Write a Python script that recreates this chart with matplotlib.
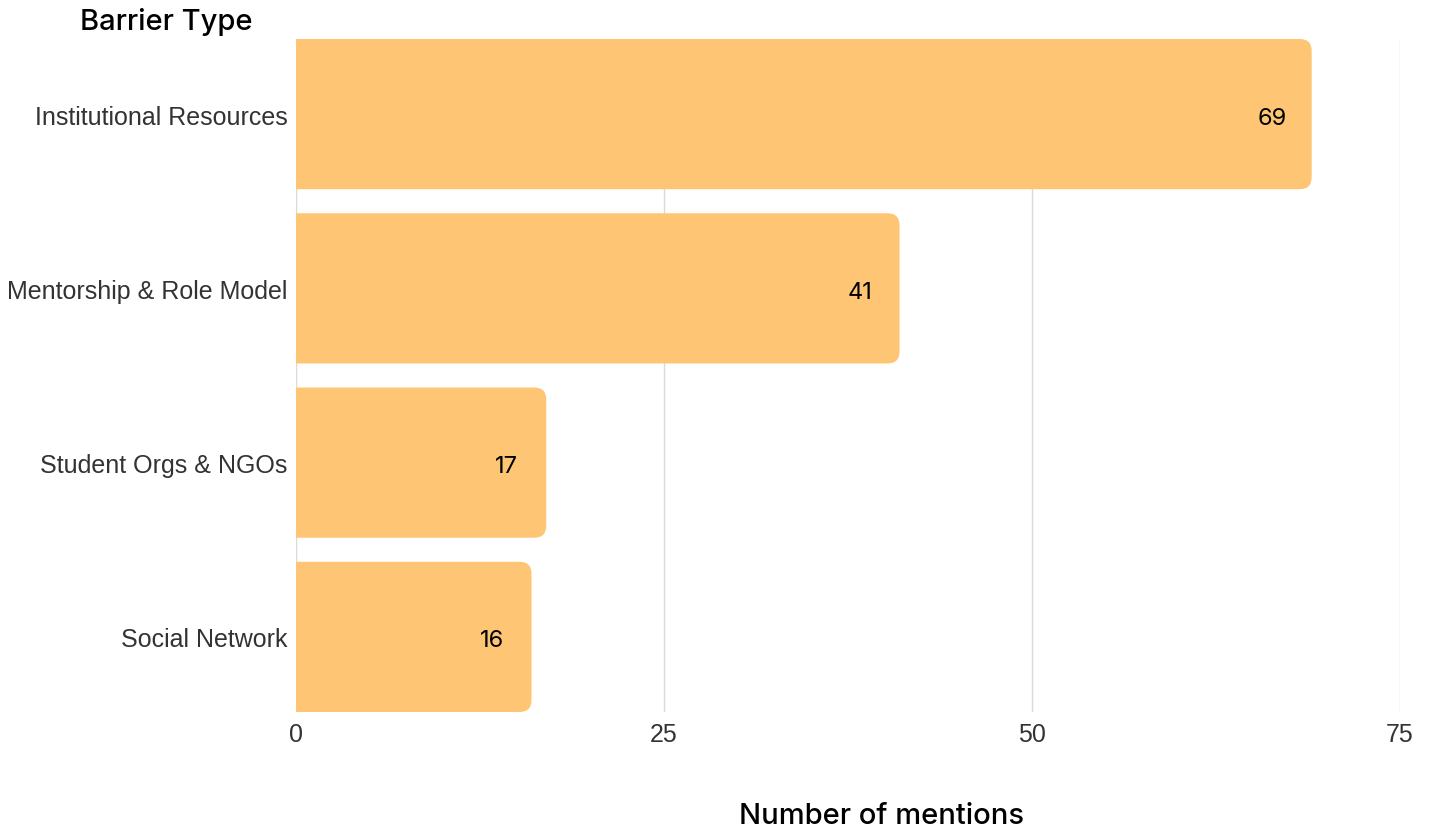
import matplotlib
matplotlib.use("Agg")
import matplotlib.pyplot as plt
from matplotlib.patches import FancyBboxPatch

# Data
categories = ["Institutional Resources", "Mentorship & Role Model",
              "Student Orgs & NGOs", "Social Network"]
mentions = [69, 41, 17, 16]
x_ticks = [0, 25, 50, 75]

BAR_COLOR = "#FEC674"
TEXT_GRAY = "#333333"
HEAD_FONT = ["Inter", "DejaVu Sans"]

fig = plt.figure(figsize=(14.32, 8.29), dpi=100)
ax = fig.add_axes([296 / 1432, 1 - 713 / 829, 1104 / 1432, 673 / 829])

bar_h = 0.862
ax.set_xlim(0, 75)
ax.set_ylim(len(categories) - 1 + bar_h / 2, -bar_h / 2)

# px per unit so the rounded corners come out circular
fig.canvas.draw()
bb = ax.get_window_extent()
px_x = bb.width / 75
px_y = bb.height / (len(categories) - 1 + bar_h)
radius_px = 12
aspect = px_x / px_y

for i, v in enumerate(mentions):
    left = -3  # start left of the axis so the left side gets clipped square
    box = FancyBboxPatch((left, i - bar_h / 2), v - left, bar_h,
                         boxstyle=f"round,pad=0,rounding_size={radius_px / px_x}",
                         mutation_aspect=aspect,
                         facecolor=BAR_COLOR, edgecolor="none", zorder=2)
    ax.add_patch(box)
    ax.text(v - 2.7, i + 0.02, str(v), ha="center", va="center",
            fontsize=17, color="black", family=HEAD_FONT, zorder=3)

ax.set_yticks(range(len(categories)))
ax.set_yticklabels(categories)
ax.set_xticks(x_ticks)
ax.tick_params(axis="both", length=0, labelsize=18, labelcolor=TEXT_GRAY)
ax.tick_params(axis="y", pad=6)
ax.tick_params(axis="x", pad=7)
for lab in ax.get_xticklabels() + ax.get_yticklabels():
    lab.set_family(["Liberation Sans", "DejaVu Sans"])

ax.grid(axis="x", color="#DADADA", linewidth=1)
ax.set_axisbelow(True)
for s in ax.spines.values():
    s.set_visible(False)

fig.text(80 / 1432, 1 - 22 / 829, "Barrier Type", ha="left", va="center",
         fontsize=21, color="black", family=HEAD_FONT, weight="medium")
fig.text(882 / 1432, 1 - 817 / 829, "Number of mentions", ha="center", va="center",
         fontsize=21, color="black", family=HEAD_FONT, weight="medium")

fig.savefig("out.png", dpi=100)
